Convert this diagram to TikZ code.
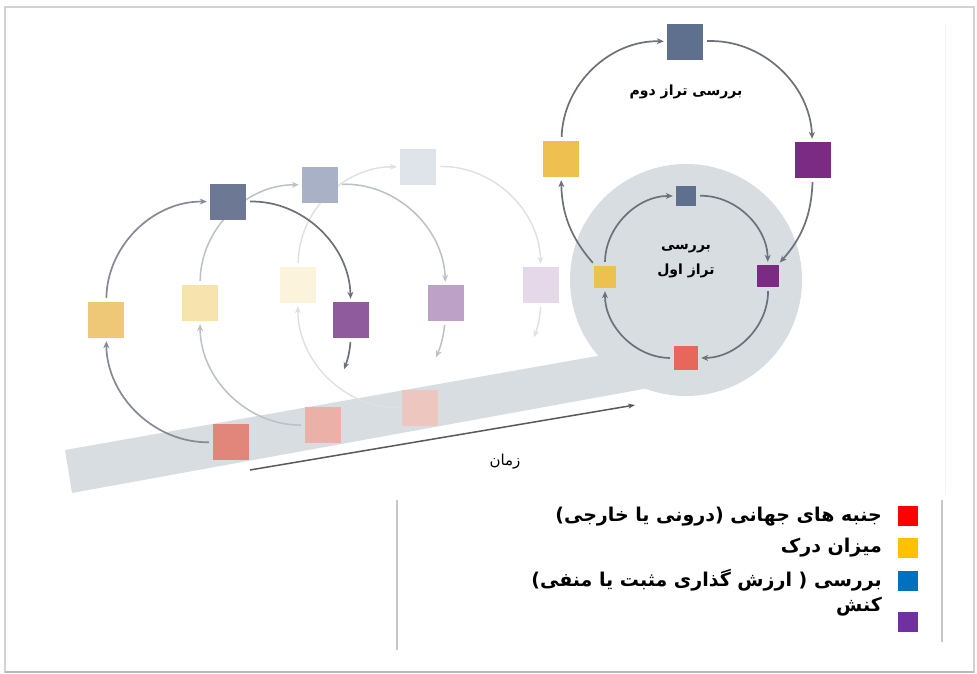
\documentclass[tikz,border=0pt]{standalone}
\usepackage{fontspec}
\usetikzlibrary{arrows.meta}
\newfontfamily\arabicfont[Script=Arabic]{DejaVu Sans}
\TeXXeTstate=1
\definecolor{band}{HTML}{D8DDE2}
\definecolor{frameC}{HTML}{C4C4C4}
\definecolor{arcD}{HTML}{6C717A}
\definecolor{arcA}{HTML}{858A94}
\definecolor{arcB}{HTML}{BCC0C7}
\definecolor{arcC}{HTML}{DEE0E5}
\definecolor{slateU}{HTML}{5F6F8E}
\definecolor{purpU}{HTML}{7B2B83}
\definecolor{yelU}{HTML}{EDC050}
\definecolor{redU}{HTML}{E8675B}
\definecolor{tA}{HTML}{6D7894}
\definecolor{lA}{HTML}{EEC777}
\definecolor{rA}{HTML}{8F5B9C}
\definecolor{bA}{HTML}{E2867C}
\definecolor{tB}{HTML}{A9B1C6}
\definecolor{lB}{HTML}{F7E3AE}
\definecolor{rB}{HTML}{BDA1C7}
\definecolor{bB}{HTML}{EBB1A8}
\definecolor{tC}{HTML}{DFE3EA}
\definecolor{lC}{HTML}{FCF3DC}
\definecolor{rC}{HTML}{E5D8E8}
\definecolor{bC}{HTML}{EDC6BF}
\definecolor{legR}{HTML}{FF0000}
\definecolor{legY}{HTML}{FFC000}
\definecolor{legB}{HTML}{0070C0}
\definecolor{legP}{HTML}{7030A0}
\pgfdeclarelayer{back}
\pgfdeclarelayer{mid}
\pgfsetlayers{back,mid,main}
\tikzset{
  sqr/.style={minimum size=#1, inner sep=0pt, draw=none},
  sqr/.default=36pt,
  arr/.style={-{Stealth[length=7pt,width=6pt]}, line width=1.7pt, draw=#1, shorten <=4pt, shorten >=3pt},
  arbold/.style={font=\arabicfont\fontsize{14}{17}\bfseries\selectfont, inner sep=1pt},
  legtext/.style={font=\arabicfont\fontsize{19}{22}\bfseries\selectfont, anchor=east, inner sep=0pt},
}
\begin{document}
\begin{tikzpicture}[x=1pt,y=1pt]
\useasboundingbox (0,0) rectangle (977,674);
\begin{pgfonlayer}{back}
\fill[white] (0,0) rectangle (977,674);
\draw[gray!35, line width=1.5pt] (5,2) rectangle (974,667);
\draw[gray!55, line width=1.5pt] (5,2) -- (974,2);
\draw[gray!10, line width=1pt] (945,650) -- (945,180);
% background band and circle
\fill[band] (65,224) -- (620,322) -- (660,288) -- (72,181) -- cycle;
\fill[band] (686,394) circle (116);
\end{pgfonlayer}
\draw[gray!45, line width=1.5pt] (397,174) -- (397,24);
\draw[gray!45, line width=1.5pt] (942,174) -- (942,32);

% time arrow
\coordinate (ts) at (250,204);
\coordinate (te) at (635,269);
\draw[-{Stealth[length=7pt,width=5pt]}, line width=1.5pt, draw=gray!70!black] (ts) -- (te);
\node[font=\arabicfont\fontsize{15}{18}\selectfont] (zaman) at (505,212) {\beginR زمان\endR};

% fading circle 3
\node[sqr, fill=tC] (T3) at (418,507) {};
\node[sqr, fill=lC] (L3) at (298,389) {};
\node[sqr, fill=rC] (R3) at (541,389) {};
\node[sqr, fill=bC] (B3) at (420,266) {};
% fading circle 2
\node[sqr, fill=tB] (T2) at (320,489) {};
\node[sqr, fill=lB] (L2) at (200,371) {};
\node[sqr, fill=rB] (R2) at (446,371) {};
\node[sqr, fill=bB] (B2) at (323,249) {};
% circle 1
\node[sqr, fill=tA] (T1) at (228,472) {};
\node[sqr, fill=lA] (L1) at (106,354) {};
\node[sqr, fill=rA] (R1) at (351,354) {};
\node[sqr, fill=bA] (B1) at (231,232) {};
\coordinate (e1) at (343,302);
\coordinate (e2) at (435,314);
\coordinate (e3) at (533,334);

% upper circle
\node[sqr, fill=slateU] (U1) at (685,632) {};
\node[sqr, fill=purpU] (U2) at (813,514) {};
\node[sqr, fill=yelU] (U3) at (561,515) {};
% inner circle
\node[sqr=20pt, fill=slateU] (I1) at (686,478) {};
\node[sqr=22pt, fill=purpU] (I2) at (768,398) {};
\node[sqr=24pt, fill=redU] (I3) at (686,316) {};
\node[sqr=22pt, fill=yelU] (I4) at (605,397) {};

\node[arbold] (lev2) at (686,582) {\beginR بررسی تراز دوم\endR};
\node[arbold] (lev1a) at (686,425) {\beginR بررسی\endR};
\node[arbold] (lev1b) at (686,403) {\beginR تراز اول\endR};

\begin{pgfonlayer}{mid}
% circle 3 (faintest)
\draw[arr=arcC, line width=1.4pt] (B3) to[bend left=45] (L3);
\draw[arr=arcC, line width=1.4pt] (L3) to[bend left=45] (T3);
\draw[arr=arcC, line width=1.4pt] (T3) to[bend left=45] (R3);
\draw[arr=arcC, line width=1.4pt] (R3) to[bend left=8] (e3);
% circle 2
\draw[arr=arcB, line width=1.5pt] (B2) to[bend left=45] (L2);
\draw[arr=arcB, line width=1.5pt] (L2) to[bend left=45] (T2);
\draw[arr=arcB, line width=1.5pt] (T2) to[bend left=45] (R2);
\draw[arr=arcB, line width=1.5pt] (R2) to[bend left=8] (e2);
% circle 1
\draw[arr=arcA] (B1) to[bend left=45] (L1);
\draw[arr=arcA] (L1) to[bend left=45] (T1);
\draw[arr=arcD] (T1) to[bend left=45] (R1);
\draw[arr=arcD] (R1) to[bend left=8] (e1);
% upper circle
\draw[arr=arcD] (U3) to[bend left=45] (U1);
\draw[arr=arcD] (U1) to[bend left=45] (U2);
\draw[arr=arcD] (U2) to[bend left=20] (I2);
\draw[arr=arcD] (I4) to[bend left=20] (U3);
% inner circle
\draw[arr=arcD] (I1) to[bend left=45] (I2);
\draw[arr=arcD] (I2) to[bend left=45] (I3);
\draw[arr=arcD] (I3) to[bend left=45] (I4);
\draw[arr=arcD] (I4) to[bend left=45] (I1);
\end{pgfonlayer}

% legend
\node[sqr=20pt, fill=legR] (kR) at (908,158) {};
\node[sqr=20pt, fill=legY] (kY) at (908,126) {};
\node[sqr=20pt, fill=legB] (kB) at (908,93) {};
\node[sqr=20pt, fill=legP] (kP) at (908,52) {};
\node[legtext] (tR) at (882,157) {\beginR جنبه های جهانی (درونی یا خارجی)\endR};
\node[legtext] (tY) at (882,126) {\beginR میزان درک\endR};
\node[legtext] (tB) at (882,94) {\beginR بررسی ( ارزش گذاری مثبت یا منفی)\endR};
\node[legtext] (tP) at (882,67) {\beginR کنش\endR};
\end{tikzpicture}
\end{document}
